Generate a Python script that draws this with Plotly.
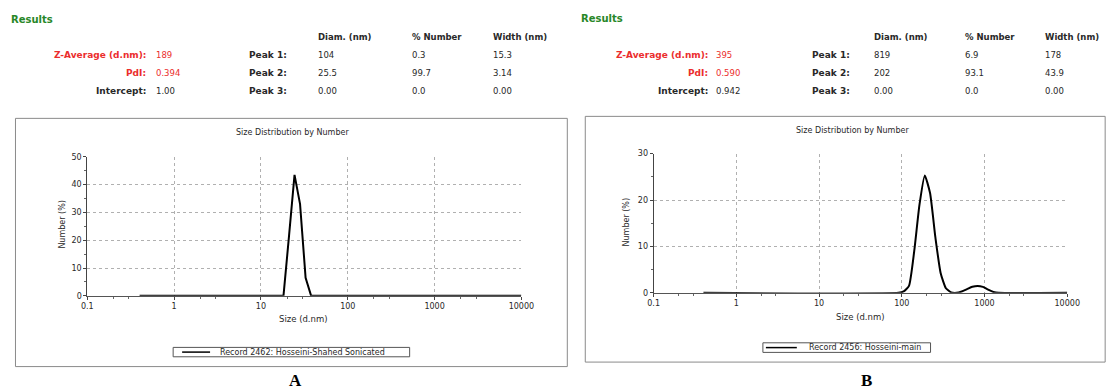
import plotly.graph_objects as go

# ---------------- data ----------------
sizes_a = [0.4, 18.17, 21.04, 24.36, 28.21, 32.67, 37.84, 10000]
number_a = [0, 0, 21.5, 43.5, 33.0, 6.5, 0, 0]

sizes_b = [0.4, 91.0, 105.4, 122.1, 141.3, 163.6, 189.5, 219.6, 254.5, 294.6, 341.2,
           395.2, 458.2, 530.6, 614.4, 711.8, 824.4, 955.0, 1106, 1281, 1484, 10000]
number_b = [0, 0, 0.3, 1.5, 9.0, 19.0, 25.3, 21.5, 12.0, 4.3, 1.0,
            0.1, 0, 0.3, 0.8, 1.3, 1.5, 1.3, 0.7, 0.2, 0, 0]

record_a = "Record 2462: Hosseini-Shahed Sonicated"
record_b = "Record 2456: Hosseini-main"

summary_labels = ["Z-Average (d.nm):", "PdI:", "Intercept:"]
summary_a = ["189", "0.394", "1.00"]
summary_b = ["395", "0.590", "0.942"]

peak_labels = ["Peak 1:", "Peak 2:", "Peak 3:"]
peak_headers = ["Diam. (nm)", "% Number", "Width (nm)"]
diam_a = ["104", "25.5", "0.00"]
pct_a = ["0.3", "99.7", "0.0"]
width_a = ["15.3", "3.14", "0.00"]
diam_b = ["819", "202", "0.00"]
pct_b = ["6.9", "93.1", "0.0"]
width_b = ["178", "43.9", "0.00"]

x_ticks = [0.1, 1, 10, 100, 1000, 10000]
x_tick_text = ["0.1", "1", "10", "100", "1000", "10000"]

# ---------------- layout helpers ----------------
W, H = 1112, 389
SX, OX, SY, OY = 0.985, 5.5, 0.978, 3.5   # compensation for page capture
def px(x):
    return ((x - OX) / SX) / W
def py(y):
    return 1 - ((y - OY) / SY) / H

FONT = "DejaVu Sans, Verdana, sans-serif"
GREEN = "rgb(40,135,40)"
RED = "rgb(235,45,45)"
TXT = "rgb(40,40,40)"

fig = go.Figure()
fig.add_trace(go.Scatter(x=sizes_a, y=number_a, mode="lines",
                         line=dict(color="black", width=2), xaxis="x", yaxis="y",
                         showlegend=False, name=record_a))
fig.add_trace(go.Scatter(x=sizes_b, y=number_b, mode="lines",
                         line=dict(color="black", width=2, shape="spline", smoothing=0.5),
                         xaxis="x2", yaxis="y2", showlegend=False, name=record_b))

def xaxis(dom):
    return dict(type="log", range=[-1, 4], domain=dom,
                tickvals=x_ticks, ticktext=x_tick_text,
                ticks="outside", ticklen=3, tickcolor="#444",
                tickfont=dict(size=8, color=TXT, family=FONT),
                showgrid=True, gridcolor="#b0b0b0", griddash="dot", gridwidth=1,
                showline=True, linecolor="#555", linewidth=1, zeroline=False,
                minor=dict(ticks="outside", ticklen=2, tickcolor="#666",
                           tickvals=[0.2, 0.3, 2, 3, 20, 30, 200, 300, 2000, 3000],
                           showgrid=False),
                fixedrange=True)

def yaxis(dom, top, step):
    return dict(range=[0, top], domain=dom, dtick=step,
                ticks="outside", ticklen=3, tickcolor="#444",
                tickfont=dict(size=8, color=TXT, family=FONT),
                showgrid=True, gridcolor="#b0b0b0", griddash="dot", gridwidth=1,
                showline=True, linecolor="#444", linewidth=1, zeroline=False,
                minor=dict(ticks="outside", ticklen=2, tickcolor="#666", dtick=step / 2,
                           showgrid=False),
                fixedrange=True)

xa = xaxis([px(87), px(522)]); xa["anchor"] = "y"
xb = xaxis([px(654.5), px(1069)]); xb["anchor"] = "y2"
ya = yaxis([py(295.7), py(156.5)], 50, 10); ya["anchor"] = "x"
yb = yaxis([py(292.7), py(153.3)], 30, 10); yb["anchor"] = "x2"

def rect(x0, y0, x1, y1, color, w=1):
    return dict(type="rect", xref="paper", yref="paper", x0=px(x0), x1=px(x1),
                y0=py(y1), y1=py(y0), line=dict(color=color, width=w))

def hline(x0, x1, y, color, w):
    return dict(type="line", xref="paper", yref="paper", x0=px(x0), x1=px(x1),
                y0=py(y), y1=py(y), line=dict(color=color, width=w))

shapes = [
    rect(15, 118, 568, 366.5, "#8a8a8a"),
    rect(586, 116, 1107, 362, "#8a8a8a"),
    rect(173, 347.3, 410, 356.7, "#555"),
    hline(182, 210, 352, "black", 1.5),
    rect(764, 342.7, 932, 352.3, "#555"),
    hline(767, 798, 347.5, "black", 1.5),
]

ann = []
def text(x, y, s, anchor="left", size=9, color=TXT, bold=False, family=FONT, angle=0):
    ann.append(dict(x=px(x), y=py(y), xref="paper", yref="paper", text=f"<b>{s}</b>" if bold else s,
                    showarrow=False, xanchor=anchor, yanchor="middle", textangle=angle,
                    font=dict(size=size, color=color, family=family)))

# Results tables
def results(x0, y0, lab_r, val_l, peak_r, cols, summ, diam, pct, width):
    text(x0, y0, "Results", size=10, color=GREEN, bold=True)
    for i, h in enumerate(peak_headers):
        text(cols[i], 36.5, h, bold=True, size=8.5)
    for r in range(3):
        y = 54.5 + 18 * r
        col = RED if r < 2 else TXT
        text(lab_r, y, summary_labels[r], anchor="right", bold=True, color=col, size=9)
        text(val_l, y, summ[r], color=col, size=8.5)
        text(peak_r, y, peak_labels[r], anchor="right", bold=True, size=9)
        text(cols[0], y, diam[r], size=8.5)
        text(cols[1], y, pct[r], size=8.5)
        text(cols[2], y, width[r], size=8.5)

results(9, 19, 148, 154, 289, [316, 410, 492], summary_a, diam_a, pct_a, width_a)
results(580, 18, 711, 715, 853, [873, 965, 1045], summary_b, diam_b, pct_b, width_b)

# chart texts
text(293, 132, "Size Distribution by Number", anchor="center", size=8)
text(854, 130, "Size Distribution by Number", anchor="center", size=8)
text(304, 319, "Size (d.nm)", anchor="center", size=8.5)
text(862, 317, "Size (d.nm)", anchor="center", size=8.5)
text(62, 224, "Number (%)", anchor="center", size=8, angle=-90)
text(627, 222, "Number (%)", anchor="center", size=8, angle=-90)
text(218, 352, record_a, size=8)
text(808, 347.5, record_b, size=8)
text(296, 380, "A", anchor="center", size=17, bold=True, color="black",
     family="Liberation Serif, Times New Roman, serif")
text(868, 380, "B", anchor="center", size=17, bold=True, color="black",
     family="Liberation Serif, Times New Roman, serif")

fig.update_layout(width=W, height=H, margin=dict(l=0, r=0, t=0, b=0),
                  paper_bgcolor="white", plot_bgcolor="white",
                  xaxis=xa, yaxis=ya, xaxis2=xb, yaxis2=yb,
                  shapes=shapes, annotations=ann, showlegend=False,
                  font=dict(family=FONT, color=TXT))

fig.write_html("out.html", config={"responsive": False, "displayModeBar": False},
               post_script="document.body.style.margin='0';document.body.style.padding='0';"
                           "document.body.style.overflow='hidden';")
